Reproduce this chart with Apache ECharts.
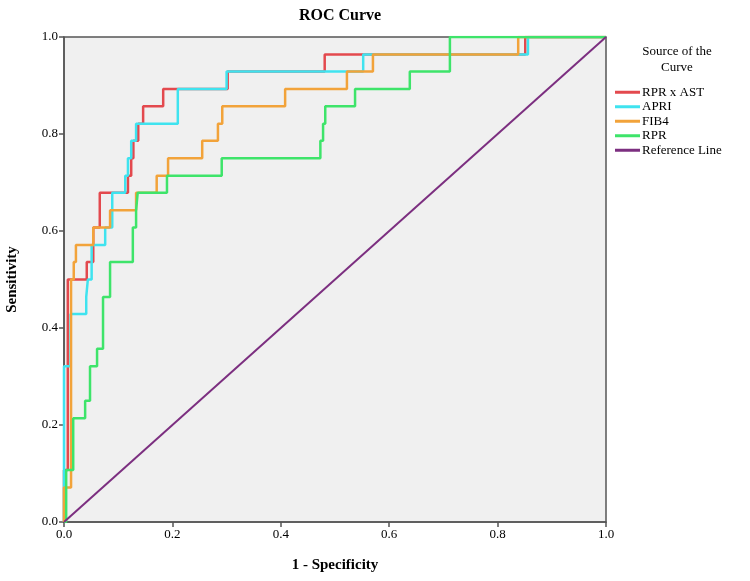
<!DOCTYPE html>
<html>
<head>
<meta charset="utf-8">
<script src="https://cdn.jsdelivr.net/npm/echarts@6/dist/echarts.min.js"></script>
<style>
html, body { margin: 0; padding: 0; background: #fff; }
#chart { width: 750px; height: 581px; }
</style>
</head>
<body>
<div id="chart"></div>
<script>
// ROC curve vertices: [1 - specificity, sensitivity]
var rprAstPts = [
	[0, 0], [0, 0.107], [0.007, 0.107], [0.007, 0.5], [0.042, 0.5], [0.042, 0.536],
	[0.054, 0.536], [0.054, 0.607], [0.066, 0.607], [0.066, 0.679], [0.118, 0.679],
	[0.118, 0.714], [0.124, 0.714], [0.124, 0.75], [0.128, 0.75], [0.128, 0.786],
	[0.137, 0.786], [0.137, 0.821], [0.146, 0.821], [0.146, 0.857], [0.183, 0.857],
	[0.183, 0.893], [0.302, 0.893], [0.302, 0.929], [0.481, 0.929], [0.481, 0.964],
	[0.851, 0.964], [0.851, 1], [1, 1]
];
var apriPts = [
	[0, 0], [0, 0.321], [0.012, 0.321], [0.012, 0.429], [0.041, 0.429], [0.041, 0.464],
	[0.044, 0.464], [0.044, 0.5], [0.051, 0.5], [0.051, 0.571], [0.076, 0.571],
	[0.076, 0.607], [0.089, 0.607], [0.089, 0.679], [0.113, 0.679], [0.113, 0.714],
	[0.118, 0.714], [0.118, 0.75], [0.124, 0.75], [0.124, 0.786], [0.133, 0.786],
	[0.133, 0.821], [0.21, 0.821], [0.21, 0.893], [0.3, 0.893], [0.3, 0.929],
	[0.552, 0.929], [0.552, 0.964], [0.856, 0.964], [0.856, 1], [1, 1]
];
var fib4Pts = [
	[0, 0], [0, 0.071], [0.013, 0.071], [0.013, 0.5], [0.018, 0.5], [0.018, 0.536],
	[0.022, 0.536], [0.022, 0.571], [0.054, 0.571], [0.054, 0.607], [0.085, 0.607],
	[0.085, 0.643], [0.133, 0.643], [0.133, 0.679], [0.171, 0.679], [0.171, 0.714],
	[0.192, 0.714], [0.192, 0.75], [0.255, 0.75], [0.255, 0.786], [0.284, 0.786],
	[0.284, 0.821], [0.292, 0.821], [0.292, 0.857], [0.408, 0.857], [0.408, 0.893],
	[0.522, 0.893], [0.522, 0.929], [0.57, 0.929], [0.57, 0.964], [0.838, 0.964],
	[0.838, 1], [1, 1]
];
var rprPts = [
	[0, 0], [0.004, 0], [0.004, 0.107], [0.017, 0.107], [0.017, 0.214], [0.039, 0.214],
	[0.039, 0.25], [0.048, 0.25], [0.048, 0.321], [0.061, 0.321], [0.061, 0.357],
	[0.072, 0.357], [0.072, 0.464], [0.085, 0.464], [0.085, 0.536], [0.127, 0.536],
	[0.127, 0.607], [0.133, 0.607], [0.133, 0.643], [0.136, 0.643], [0.136, 0.679],
	[0.19, 0.679], [0.19, 0.714], [0.291, 0.714], [0.291, 0.75], [0.473, 0.75],
	[0.473, 0.786], [0.478, 0.786], [0.478, 0.821], [0.482, 0.821], [0.482, 0.857],
	[0.537, 0.857], [0.537, 0.893], [0.638, 0.893], [0.638, 0.929], [0.712, 0.929],
	[0.712, 1], [1, 1]
];
var refPts = [[0, 0], [1, 1]];

var seriesNames = ["RPR x AST", "APRI", "FIB4", "RPR", "Reference Line"];
var seriesColors = ["#e3494e", "#3fe3ef", "#f2a33a", "#3ee46a", "#7c2f80"];
var axisTicks = [0, 0.2, 0.4, 0.6, 0.8, 1.0];

var serif = "'Liberation Serif', 'DejaVu Serif', serif";

function makeLine(name, pts, color, width) {
	return {
		name: name,
		type: "line",
		data: pts,
		symbol: "none",
		silent: true,
		animation: false,
		lineStyle: { color: color, width: width },
		itemStyle: { color: color }
	};
}

var allPts = [rprAstPts, apriPts, fib4Pts, rprPts, refPts];
var series = allPts.map((pts, i) => makeLine(seriesNames[i], pts, seriesColors[i], i === 4 ? 2 : 2.5));

var axisCommon = {
	type: "value",
	min: axisTicks[0],
	max: axisTicks[axisTicks.length - 1],
	interval: 0.2,
	nameLocation: "middle",
	nameTextStyle: { fontFamily: serif, fontSize: 15, fontWeight: "bold", color: "#000" },
	axisLine: { show: true, lineStyle: { color: "#555", width: 1.5 } },
	axisTick: { show: true, length: 5, lineStyle: { color: "#555", width: 1.5 } },
	axisLabel: { fontFamily: serif, fontSize: 13, color: "#000", margin: 6, formatter: v => v.toFixed(1) },
	splitLine: { show: false }
};

var mychart = echarts.init(document.getElementById("chart"));
var option = {
	backgroundColor: "#fff",
	animation: false,
	title: {
		text: "ROC Curve",
		left: 335,
		textAlign: "center",
		top: 3,
		textStyle: { fontFamily: serif, fontSize: 16, fontWeight: "bold", color: "#000" }
	},
	grid: {
		left: 64, right: 144, top: 37, bottom: 59,
		outerBoundsMode: "none",
		containLabel: false,
		show: true,
		backgroundColor: "#f0f0f0",
		borderColor: "#555",
		borderWidth: 1.5
	},
	xAxis: Object.assign({}, axisCommon, { name: "1 - Specificity", nameGap: 36 }),
	yAxis: Object.assign({}, axisCommon, { name: "Sensitivity", nameGap: 44 }),
	legend: {
		orient: "vertical",
		left: 610,
		top: 80,
		itemGap: 0,
		itemWidth: 25,
		itemHeight: 3,
		icon: "rect",
		data: seriesNames,
		textStyle: { fontFamily: serif, fontSize: 13, color: "#000", lineHeight: 14.5, padding: [0, 0, 0, -3] }
	},
	graphic: [{
		type: "text",
		x: 677,
		y: 44,
		style: {
			text: "Source of the\nCurve",
			textAlign: "center",
			font: "13px " + serif,
			fill: "#000",
			lineHeight: 16
		}
	}],
	series: series
};
mychart.setOption(option, true);
</script>
</body>
</html>
